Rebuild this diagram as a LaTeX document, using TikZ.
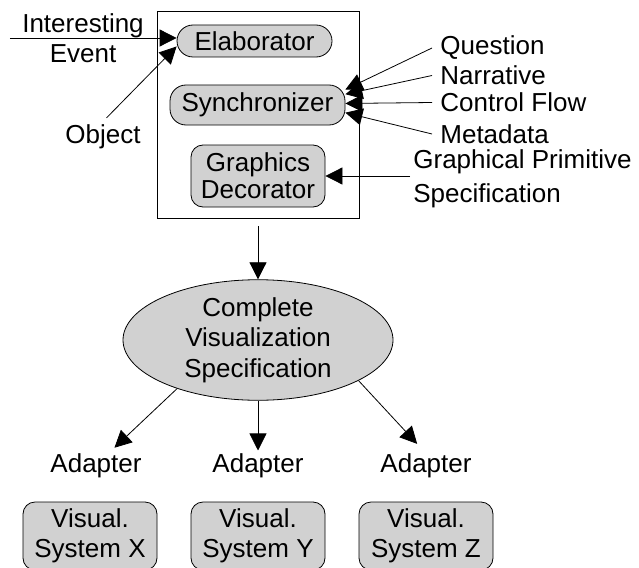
\documentclass[tikz,border=0pt]{standalone}
\usepackage{fontspec}
\setmainfont{Liberation Sans}
\usetikzlibrary{arrows.meta}
\usetikzlibrary{shapes.geometric}
\usetikzlibrary{positioning}
\definecolor{boxgray}{gray}{0.82}
\tikzset{arr/.style = {-{Triangle[length=17pt, width=17pt]}}}
\tikzset{module/.style = {draw, fill = boxgray, align = center, inner sep = 0}}
\tikzset{txt/.style = {inner sep = 3pt, align = center}}
\tikzset{input/.style = {anchor = west, inner xsep = 8pt, inner ysep = 3pt}}

\begin{document}
\begin{tikzpicture}[x = 1pt, y = -1pt, line width = 0.8pt,
                    font = \fontsize{26}{27}\selectfont]
    \useasboundingbox (0, 0) rectangle (639, 567);
    % the framed part
    \node [draw, minimum width = 202pt, minimum height = 207pt] (frame) at (258, 114.5) {};
    \node [module, rounded corners = 16pt, minimum width = 155pt, minimum height = 32pt] (elab) at (254.5, 41) {Elaborator};
    \node [module, rounded corners = 16pt, minimum width = 175pt, minimum height = 40pt] (sync) at (257.5, 105) {Synchronizer};
    \node [module, rounded corners = 12pt, minimum width = 134pt, minimum height = 62pt] (deco) at (258, 176) {Graphics\\Decorator};
    % inputs
    \node [txt, inner xsep = 12pt, font = \fontsize{26}{30}\selectfont] (event) at (83, 38) {Interesting\\Event};
    \node [txt] (object) at (103, 137) {Object};
    \draw [arr] (event.west) -- (event.west -| elab.west);
    \draw [arr, shorten <= 5pt] (object.north) -- (elab.184);
    \node [input] (question) at (432, 48) {Question};
    \node [input] (narrative) at (432, 75.5) {Narrative};
    \node [input] (control) at (432, 102.5) {Control Flow};
    \node [input] (metadata) at (432, 134) {Metadata};
    \draw [arr] (question.west) -- (sync.10);
    \draw [arr] (narrative.west) -- (sync.7);
    \draw [arr] (control.west) -- (sync.1);
    \draw [arr] (metadata.west) -- (sync.-5);
    \node [txt, anchor = west, align = left, font = \fontsize{26}{34}\selectfont] (primitive) at (410, 179) {Graphical Primitive\\Specification};
    \draw [arr] (primitive.west |- deco.east) -- (deco.east);
    % output side
    \node [module, ellipse, minimum width = 270pt, minimum height = 120pt, font = \fontsize{26}{30.5}\selectfont] (spec) at (258, 340) {Complete\\Visualization\\Specification};
    \draw [arr, shorten <= 8pt] (frame.south) -- (spec.north);
    \node [txt] (adX) at (96, 466) {Adapter};
    \node [txt] (adY) at (258, 466) {Adapter};
    \node [txt] (adZ) at (426, 466) {Adapter};
    \draw [arr, shorten >= 4pt] (spec.211) -- (adX.45);
    \draw [arr] (spec.south) -- (adY.north);
    \draw [arr, shorten >= 9pt] (spec.338) -- (adZ.100);
    \node [module, rounded corners = 12pt, minimum width = 134pt, minimum height = 68pt, font = \fontsize{26}{30}\selectfont] (sysX) at (90, 536) {Visual.\\System X};
    \node [module, rounded corners = 12pt, minimum width = 134pt, minimum height = 68pt, font = \fontsize{26}{30}\selectfont] (sysY) at (258, 536) {Visual.\\System Y};
    \node [module, rounded corners = 12pt, minimum width = 134pt, minimum height = 68pt, font = \fontsize{26}{30}\selectfont] (sysZ) at (426, 536) {Visual.\\System Z};
\end{tikzpicture}
\end{document}
